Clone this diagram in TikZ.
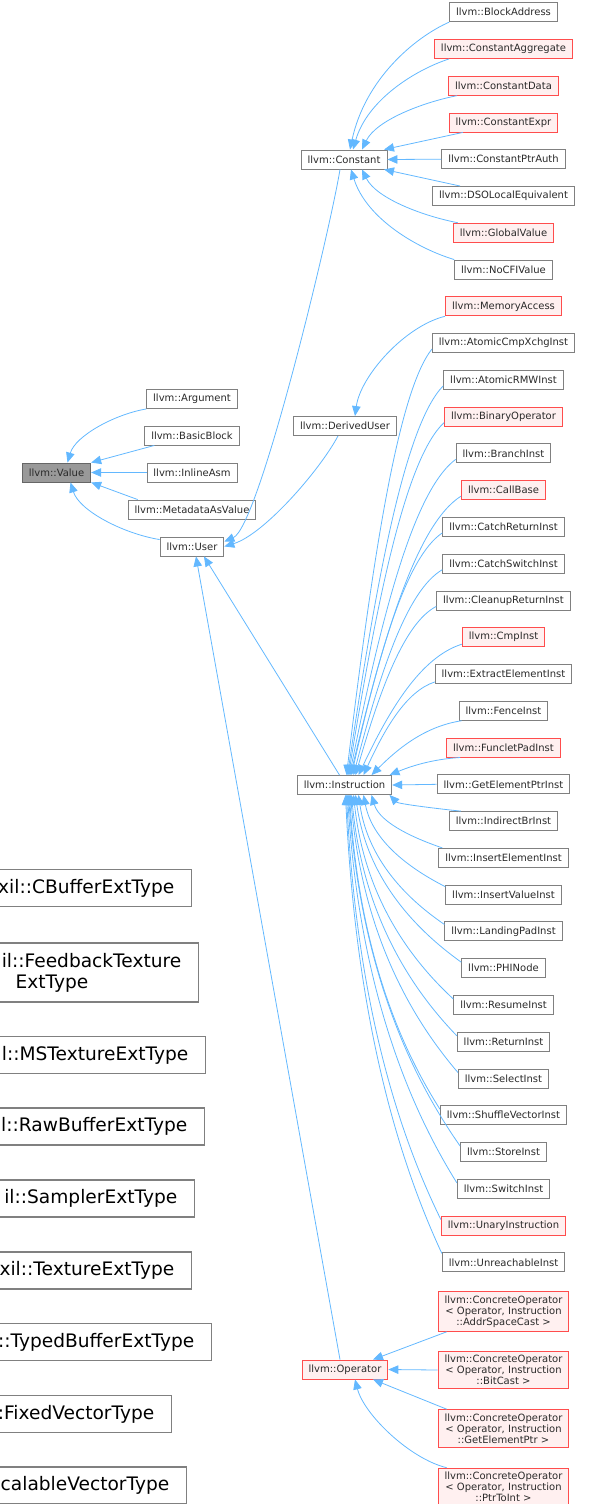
\documentclass[tikz,border=0pt]{standalone}
\usepackage{fontspec}
\setmainfont{DejaVu Sans}
\usetikzlibrary{arrows.meta,calc}

\definecolor{edgeblue}{HTML}{63B8FF}
\definecolor{boxline}{HTML}{808080}
\definecolor{redline}{HTML}{FF4D4D}
\definecolor{redfill}{HTML}{FFF0F0}
\definecolor{rootfill}{HTML}{999999}
\definecolor{rootline}{HTML}{666666}
\definecolor{labeltext}{HTML}{2A2A2A}

\tikzset{
  cls/.style={draw=boxline, line width=0.9pt, fill=white, text=labeltext,
    font=\fontsize{10}{11}\selectfont, inner xsep=6.5pt, inner ysep=0pt,
    minimum height=19pt},
  partial/.style={cls, draw=redline, fill=redfill},
  rootcls/.style={cls, draw=rootline, fill=rootfill},
  tall/.style={align=center, inner ysep=4pt},
  ext/.style={draw=boxline, line width=1.4pt, fill=white, text=black,
    font=\fontsize{18.6}{21}\selectfont, text width=320pt, align=right,
    inner xsep=17pt, inner ysep=0pt, minimum height=37pt, anchor=east},
  edge/.style={draw=edgeblue, line width=0.8pt, {Triangle[length=10pt,width=8.5pt]}-},
}

% inheritance connector: #1 tip on the base class, #2 start on the derived class,
% #3/#4 first control (fractions of dx/dy from the tip), #5/#6 second control (back from the start)
\newcommand\classedge[6]{%
  \draw[edge] let \p1=#1, \p2=#2, \n1={\x2-\x1}, \n2={\y2-\y1} in
    (\p1) .. controls (\x1+#3*\n1,\y1+#4*\n2) and (\x2-#5*\n1,\y2-#6*\n2) .. (\p2);}

\begin{document}
\begin{tikzpicture}[x=1pt,y=1pt]
\path[use as bounding box] (0,0) rectangle (591,-1504);
\clip (0,0) rectangle (591,-1504);

% ---- root and its direct subclasses
\node[rootcls] (value) at (56.5,-472.5) {llvm::Value};
\node[cls] (argument) at (192,-399) {llvm::Argument};
\node[cls] (basicblock) at (192,-435.5) {llvm::BasicBlock};
\node[cls] (inlineasm) at (192,-472.5) {llvm::InlineAsm};
\node[cls] (metadata) at (192,-509.5) {llvm::MetadataAsValue};
\node[cls] (user) at (192,-546.5) {llvm::User};

% ---- User subclasses
\node[cls] (constant) at (344,-159.5) {llvm::Constant};
\node[cls] (deriveduser) at (345,-426) {llvm::DerivedUser};
\node[cls] (instr) at (344.5,-785) {llvm::Instruction};
\node[partial] (operator) at (345,-1369.5) {llvm::Operator};

% ---- Constant subclasses
\node[cls] (blockaddr) at (503.5,-12.2) {llvm::BlockAddress};
\node[partial] (caggr) at (503.5,-49) {llvm::ConstantAggregate};
\node[partial] (cdata) at (503.5,-85.7) {llvm::ConstantData};
\node[partial] (cexpr) at (503.5,-122.5) {llvm::ConstantExpr};
\node[cls] (cptrauth) at (503.5,-159.2) {llvm::ConstantPtrAuth};
\node[cls] (dsolocal) at (503.5,-196) {llvm::DSOLocalEquivalent};
\node[partial] (globalvalue) at (503.5,-232.7) {llvm::GlobalValue};
\node[cls] (nocfi) at (503.5,-269.5) {llvm::NoCFIValue};

% ---- DerivedUser and Instruction subclasses
\node[partial] (memaccess) at (503.5,-306.3) {llvm::MemoryAccess};
\node[cls] (acx) at (503.5,-343.07) {llvm::AtomicCmpXchgInst};
\node[cls] (armw) at (503.5,-379.84) {llvm::AtomicRMWInst};
\node[partial] (binop) at (503.5,-416.61) {llvm::BinaryOperator};
\node[cls] (branch) at (503.5,-453.38) {llvm::BranchInst};
\node[partial] (callbase) at (503.5,-490.15) {llvm::CallBase};
\node[cls] (catchret) at (503.5,-526.92) {llvm::CatchReturnInst};
\node[cls] (catchsw) at (503.5,-563.69) {llvm::CatchSwitchInst};
\node[cls] (cleanupret) at (503.5,-600.46) {llvm::CleanupReturnInst};
\node[partial] (cmp) at (503.5,-637.23) {llvm::CmpInst};
\node[cls] (extractel) at (503.5,-674.0) {llvm::ExtractElementInst};
\node[cls] (fence) at (503.5,-710.77) {llvm::FenceInst};
\node[partial] (funclet) at (503.5,-747.54) {llvm::FuncletPadInst};
\node[cls] (gep) at (503.5,-784.31) {llvm::GetElementPtrInst};
\node[cls] (indirectbr) at (503.5,-821.08) {llvm::IndirectBrInst};
\node[cls] (insertel) at (503.5,-857.85) {llvm::InsertElementInst};
\node[cls] (insertval) at (503.5,-894.62) {llvm::InsertValueInst};
\node[cls] (landingpad) at (503.5,-931.39) {llvm::LandingPadInst};
\node[cls] (phi) at (503.5,-968.16) {llvm::PHINode};
\node[cls] (resume) at (503.5,-1004.93) {llvm::ResumeInst};
\node[cls] (return) at (503.5,-1041.7) {llvm::ReturnInst};
\node[cls] (select) at (503.5,-1078.47) {llvm::SelectInst};
\node[cls] (shuffle) at (503.5,-1115.24) {llvm::ShuffleVectorInst};
\node[cls] (store) at (503.5,-1152.01) {llvm::StoreInst};
\node[cls] (switch) at (503.5,-1188.78) {llvm::SwitchInst};
\node[partial] (unary) at (503.5,-1225.55) {llvm::UnaryInstruction};
\node[cls] (unreachable) at (503.5,-1262.32) {llvm::UnreachableInst};

% ---- Operator subclasses
\node[partial,tall] (cop1) at (503.5,-1311.5) {llvm::ConcreteOperator\\< Operator, Instruction\\::AddrSpaceCast >};
\node[partial,tall] (cop2) at (503.5,-1370) {llvm::ConcreteOperator\\< Operator, Instruction\\::BitCast >};
\node[partial,tall] (cop3) at (503.5,-1428.5) {llvm::ConcreteOperator\\< Operator, Instruction\\::GetElementPtr >};
\node[partial,tall] (cop4) at (503.5,-1487) {llvm::ConcreteOperator\\< Operator, Instruction\\::PtrToInt >};

% ---- target extension / vector types, running off the left edge
\node[ext] (cbuffer) at (192,-888) {xil::CBufferExtType};
\node[ext, minimum height=59pt] (feedback) at (199,-972.5) {il::FeedbackTexture\\ExtType\hspace*{93pt}};
\node[ext] (mstexture) at (206,-1055) {l::MSTextureExtType};
\node[ext] (rawbuffer) at (205,-1126.5) {l::RawBufferExtType};
\node[ext] (sampler) at (195,-1198.5) {il::SamplerExtType};
\node[ext] (texture) at (192,-1270.5) {xil::TextureExtType};
\node[ext] (typedbuffer) at (212,-1342) {::TypedBufferExtType};
\node[ext] (fixedvec) at (172,-1414) {:FixedVectorType};
\node[ext] (scalablevec) at (187,-1485.5) {calableVectorType};

% ---- connectors into Value
\classedge{([xshift=11pt]value.north)}{(argument.south west)}{0.1}{0.5}{0.4}{0.1}
\classedge{(value.north east)}{([xshift=10pt]basicblock.south west)}{0.3}{0.3}{0.3}{0.3}
\draw[edge] (value.east) -- (inlineasm.west);
\classedge{(value.south east)}{([xshift=10pt]metadata.north west)}{0.3}{0.3}{0.3}{0.3}
\classedge{([xshift=14pt]value.south)}{([yshift=-3pt]user.north west)}{0.1}{0.5}{0.4}{0.1}

% ---- connectors into User
\classedge{([yshift=5pt]user.east)}{([xshift=-4pt]constant.south)}{0.3}{0.04}{0.09}{0.17}
\classedge{(user.east)}{([xshift=-7pt]deriveduser.south)}{0.35}{0.11}{0.16}{0.31}
\draw[edge] ([xshift=12pt]user.south) -- ([xshift=-5pt]instr.north);
\draw[edge] ([xshift=4pt]user.south) -- ([xshift=-5pt]operator.north);

% ---- connector into DerivedUser
\classedge{([xshift=10pt]deriveduser.north)}{(memaccess.south west)}{0.06}{0.4}{0.45}{0.1}

% ---- connectors into Constant
\classedge{([xshift=6pt]constant.north)}{(blockaddr.south west)}{0.15}{0.55}{0.35}{0.12}
\classedge{([xshift=9pt]constant.north)}{([xshift=15pt]caggr.south west)}{0.15}{0.55}{0.35}{0.12}
\classedge{([xshift=18pt]constant.north)}{([xshift=9pt]cdata.south west)}{0.15}{0.55}{0.35}{0.12}
\classedge{([xshift=40pt]constant.north)}{([xshift=14pt]cexpr.south west)}{0.3}{0.3}{0.3}{0.3}
\draw[edge] (constant.east) -- (cptrauth.west);
\classedge{([xshift=40pt]constant.south)}{([xshift=28pt]dsolocal.north west)}{0.3}{0.3}{0.3}{0.3}
\classedge{([xshift=18pt]constant.south)}{([xshift=5pt]globalvalue.north west)}{0.15}{0.55}{0.35}{0.12}
\classedge{([xshift=7pt]constant.south)}{(nocfi.north west)}{0.15}{0.55}{0.35}{0.12}

% ---- connectors into Instruction
\foreach \c/\t/\sx/\sy in {acx/2/0/4, armw/3/0/4, binop/4/0/4, branch/5/0/4,
    callbase/6/0/4, catchret/7/0/4, catchsw/9/0/4, cleanupret/11/0/4,
    cmp/14/0/3, extractel/19/0/2, fence/27/3/0, funclet/45/14/0}
  {\classedge{([xshift=\t pt]instr.north)}{([xshift=\sx pt,yshift=\sy pt]\c.south west)}{0.3}{0.5}{0.4}{0.1}}
\draw[edge] (instr.east) -- (gep.west);
\foreach \c/\t/\sx/\sy in {indirectbr/45/12/0, insertel/27/4/0, insertval/19/0/-2,
    landingpad/14/0/-3, phi/11/0/-4, resume/9/0/-4, return/7/0/-4, select/6/0/-4,
    shuffle/5/0/-4, store/4/0/-4, switch/3/0/-4, unary/2/0/-4, unreachable/1/0/-1}
  {\classedge{([xshift=\t pt]instr.south)}{([xshift=\sx pt,yshift=\sy pt]\c.north west)}{0.12}{0.55}{0.33}{0.15}}

% ---- connectors into Operator
\classedge{([xshift=28pt]operator.north)}{([xshift=9pt]cop1.south west)}{0.3}{0.3}{0.3}{0.3}
\draw[edge] (operator.east) -- (cop2.west);
\classedge{([xshift=28pt]operator.south)}{([xshift=9pt]cop3.north west)}{0.3}{0.3}{0.3}{0.3}
\classedge{([xshift=10pt]operator.south)}{([xshift=9pt]cop4.north west)}{0.1}{0.4}{0.4}{0.1}
\end{tikzpicture}
\end{document}
